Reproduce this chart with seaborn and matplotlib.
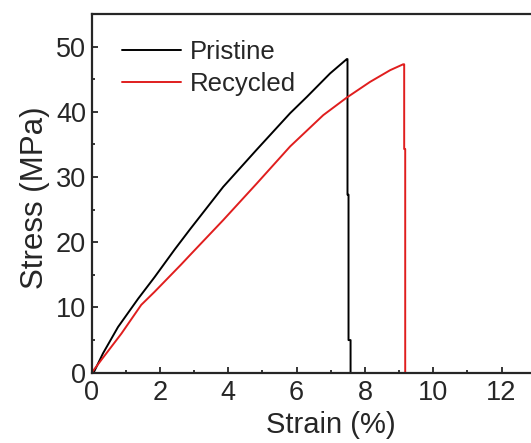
import numpy as np
import pandas as pd
import matplotlib
matplotlib.use("Agg")
import matplotlib.pyplot as plt
from matplotlib.ticker import MultipleLocator
import seaborn as sns

sns.set_style("ticks")
plt.rcParams['font.family'] = ['Liberation Sans', 'DejaVu Sans']

# stress-strain curves
pristine_strain = [0, 0.07, 0.33, 0.77, 1.36, 1.84, 2.43, 2.88, 3.85, 4.83, 5.81, 6.30, 6.98, 7.47,
                   7.49, 7.49, 7.52, 7.52, 7.58, 7.58]
pristine_stress = [0, 0.15, 2.96, 7.0, 11.35, 14.65, 18.9, 22.0, 28.5, 34.2, 39.8, 42.3, 45.9, 48.1,
                   48.1, 27.3, 27.3, 5.0, 5.0, 0]

recycled_strain = [0, 0.28, 0.87, 1.45, 1.84, 2.62, 2.88, 3.85, 4.83, 5.81, 6.78, 7.47, 8.15, 8.74,
                   9.12, 9.15, 9.15, 9.18, 9.18]
recycled_stress = [0, 1.95, 6.0, 10.4, 12.4, 16.6, 18.05, 23.4, 29.0, 34.7, 39.5, 42.2, 44.6, 46.4,
                   47.3, 47.3, 34.3, 34.3, 0]

samples = ["Pristine", "Recycled"]
colors = {"Pristine": "#000000", "Recycled": "#e01e1e"}
x_ticks = [0, 2, 4, 6, 8, 10, 12]
y_ticks = [0, 10, 20, 30, 40, 50]

df = pd.concat([
    pd.DataFrame({"strain": pristine_strain, "stress": pristine_stress, "sample": "Pristine"}),
    pd.DataFrame({"strain": recycled_strain, "stress": recycled_stress, "sample": "Recycled"}),
], ignore_index=True)

fig = plt.figure(figsize=(5.31, 4.43), dpi=100)
# axes runs past the right edge of the figure (reference is cropped there)
ax = fig.add_axes([0.1727, 0.1587, 0.9004, 0.8095])

sns.lineplot(data=df, x="strain", y="stress", hue="sample", hue_order=samples,
             palette=colors, sort=False, estimator=None, units="sample",
             linewidth=1.4, ax=ax)

ax.set_xlim(0, 14)
ax.set_ylim(0, 55)
ax.set_xticks(x_ticks)
ax.set_xticks(np.arange(1, 14, 2), minor=True)
ax.set_yticks(y_ticks)
ax.yaxis.set_minor_locator(MultipleLocator(5))
ax.tick_params(which="both", direction="in", labelsize=19.5, width=1.3)
ax.tick_params(which="major", length=4.5)
ax.tick_params(which="minor", length=2.2)
ax.tick_params(axis="x", pad=5)
ax.tick_params(axis="y", pad=4)

for s in ax.spines.values():
    s.set_linewidth(1.6)

ax.set_xlabel("Strain (%)", fontsize=21, labelpad=3.5)
ax.set_ylabel("Stress (MPa)", fontsize=22.5, labelpad=4)
ax.yaxis.label.set_y(0.487)

ax.legend(loc="upper left", bbox_to_anchor=(0.063, 0.928), frameon=False,
          borderpad=0, borderaxespad=0,
          fontsize=18.5, handlelength=2.3, handletextpad=0.35, labelspacing=0.33)

fig.savefig("out.png", dpi=100)
